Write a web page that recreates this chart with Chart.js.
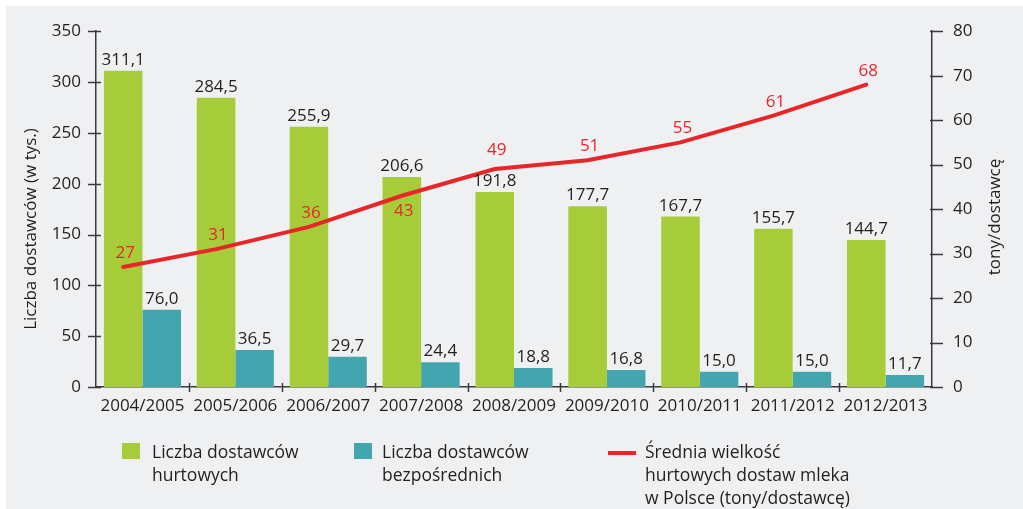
<!DOCTYPE html>
<html>
<head>
<meta charset="utf-8">
<script src="https://cdn.jsdelivr.net/npm/chart.js@4"></script>
<style>
  html, body { margin: 0; padding: 0; background: #fff; }
  body { width: 1023px; height: 509px; position: relative; overflow: hidden; font-family: "Open Sans", sans-serif; color: #231f20; }
  #bg { position: absolute; left: 6px; top: 6px; right: 0; bottom: 0; background: #eff0f2; }
  #wrap { position: absolute; left: 0; top: 0; width: 1023px; height: 509px; }
  .leg { position: absolute; font-size: 17.5px; line-height: 23px; }
  .sw { position: absolute; }
</style>
</head>
<body>
<div id="bg"></div>
<div id="wrap"><canvas id="c" width="1023" height="509"></canvas></div>

<div class="sw" style="left:122px;top:443px;width:18px;height:16px;background:#a6cc39"></div>
<div class="leg" style="left:152px;top:440px">Liczba dostawców<br>hurtowych</div>
<div class="sw" style="left:354px;top:443px;width:18px;height:16px;background:#43a6ae"></div>
<div class="leg" style="left:382px;top:440px">Liczba dostawców<br>bezpośrednich</div>
<div class="sw" style="left:608px;top:451px;width:28px;height:4px;background:#e8262a"></div>
<div class="leg" style="left:645px;top:440px">Średnia wielkość<br>hurtowych dostaw mleka<br>w Polsce (tony/dostawcę)</div>

<script>
const seasons = ["2004/2005", "2005/2006", "2006/2007", "2007/2008", "2008/2009", "2009/2010", "2010/2011", "2011/2012", "2012/2013"];
const wholesale = [311.1, 284.5, 255.9, 206.6, 191.8, 177.7, 167.7, 155.7, 144.7];
const direct = [76.0, 36.5, 29.7, 24.4, 18.8, 16.8, 15.0, 15.0, 11.7];
const avgDelivery = [27, 31, 36, 43, 49, 51, 55, 61, 68];

const GREEN = "#a6cc39";
const TEAL = "#43a6ae";
const RED = "#e8262a";
const INK = "#231f20";
const AXIS = "#3a3a3c";
const FONT = "'Open Sans', sans-serif";
// where the red value labels sit relative to their point (baseline offset)
const LABEL_DY = { 3: 20, 4: -14 };

const fmt = v => v.toFixed(1).replace(".", ",");

// the line runs through the middle of the green bars, not the category centre
const lineShift = chart => chart.getDatasetMeta(0).data[0].width / 2;

const decorations = {
  id: "decorations",
  beforeDatasetDraw(chart, args) {
    if (args.index !== 2) return;
    chart.ctx.save();
    chart.ctx.translate(-lineShift(chart), 0);
  },
  afterDatasetDraw(chart, args) {
    if (args.index === 2) chart.ctx.restore();
  },
  afterDatasetsDraw(chart) {
    const ctx = chart.ctx;
    ctx.save();
    ctx.font = "17px " + FONT;
    ctx.textAlign = "center";
    ctx.textBaseline = "alphabetic";
    ctx.fillStyle = INK;
    [0, 1].forEach(di => {
      chart.getDatasetMeta(di).data.forEach((bar, i) => {
        ctx.fillText(fmt(chart.data.datasets[di].data[i]), bar.x, bar.y - 6);
      });
    });
    ctx.fillStyle = RED;
    const sh = lineShift(chart);
    chart.getDatasetMeta(2).data.forEach((pt, i) => {
      const dy = LABEL_DY[i] !== undefined ? LABEL_DY[i] : -9;
      ctx.fillText(String(avgDelivery[i]), pt.x - sh + 2, pt.y + dy);
    });

    // tick marks crossing the axes
    const { x, y, y2 } = chart.scales;
    ctx.strokeStyle = AXIS;
    ctx.lineWidth = 1.5;
    ctx.beginPath();
    y.ticks.forEach((t, i) => {
      const py = Math.round(y.getPixelForTick(i)) + 0.5;
      ctx.moveTo(y.right - 8, py); ctx.lineTo(y.right + 5, py);
    });
    y2.ticks.forEach((t, i) => {
      const py = Math.round(y2.getPixelForTick(i)) + 0.5;
      ctx.moveTo(y2.left - 2, py); ctx.lineTo(y2.left + 11, py);
    });
    const step = (x.right - x.left) / seasons.length;
    for (let i = 1; i < seasons.length; i++) {
      const px = Math.round(x.left + step * i) + 0.5;
      ctx.moveTo(px, x.top - 4); ctx.lineTo(px, x.top + 5);
    }
    ctx.stroke();

    // axis titles, both reading bottom-to-top
    ctx.fillStyle = INK;
    ctx.textBaseline = "middle";
    ctx.font = "17px " + FONT;
    [["Liczba dostawców (w tys.)", 31, 229], ["tony/dostawcę", 995, 217]].forEach(([txt, tx, ty]) => {
      ctx.save();
      ctx.translate(tx, ty);
      ctx.rotate(-Math.PI / 2);
      ctx.fillText(txt, 0, 0);
      ctx.restore();
    });
    ctx.restore();
  }
};

new Chart(document.getElementById("c"), {
  type: "bar",
  data: {
    labels: seasons,
    datasets: [
      { label: "Liczba dostawców hurtowych", data: wholesale, backgroundColor: GREEN, xAxisID: "x", yAxisID: "y", order: 1 },
      { label: "Liczba dostawców bezpośrednich", data: direct, backgroundColor: TEAL, xAxisID: "x", yAxisID: "y", order: 1 },
      {
        type: "line",
        label: "Średnia wielkość hurtowych dostaw mleka w Polsce (tony/dostawcę)",
        data: avgDelivery,
        xAxisID: "x", yAxisID: "y2",
        borderColor: RED, borderWidth: 4, pointRadius: 0, tension: 0,
        borderCapStyle: "round", order: 0, clip: false
      }
    ]
  },
  options: {
    responsive: false,
    animation: false,
    events: [],
    categoryPercentage: 0.83,
    barPercentage: 1,
    layout: { padding: { top: 29, left: 0, right: 0, bottom: 0 } },
    plugins: { legend: { display: false }, tooltip: { enabled: false } },
    scales: {
      x: {
        grid: { display: false, drawTicks: false },
        border: { display: true, color: AXIS, width: 1.5 },
        ticks: { color: INK, font: { family: FONT, size: 17 }, padding: 9, maxRotation: 0, autoSkip: false },
        afterFit: s => { s.height = 122; }
      },
      y: {
        position: "left", min: 0, max: 350,
        grid: { display: false, drawTicks: false },
        border: { display: true, color: AXIS, width: 1.5 },
        ticks: { stepSize: 50, color: INK, font: { family: FONT, size: 17 }, padding: 15 },
        afterFit: s => { s.width = 96; }
      },
      y2: {
        position: "right", min: 0, max: 80,
        grid: { display: false, drawTicks: false },
        border: { display: true, color: AXIS, width: 1.5 },
        ticks: { stepSize: 10, color: INK, font: { family: FONT, size: 17 }, padding: 21 },
        afterFit: s => { s.width = 91; }
      }
    }
  },
  plugins: [decorations]
});
</script>
</body>
</html>
